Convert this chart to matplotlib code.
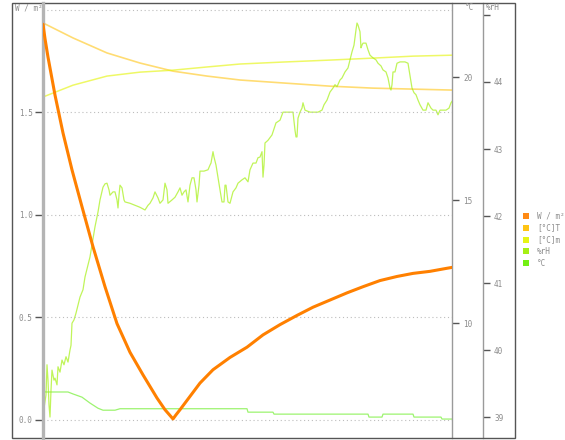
#!/usr/bin/env python3
"""Recreate the irradiance / temperature / humidity logger chart."""

import matplotlib

matplotlib.use("Agg")

import matplotlib.pyplot as plt
from matplotlib.patches import Rectangle

W, H = 565, 440

# irradiance, W/m2 (left axis)
IRR_T = [0, 2, 5, 12, 20, 29, 39, 50, 62, 74, 87, 100, 114, 122, 130, 133, 137,
         157, 170, 187, 204, 220, 237, 254, 270, 287, 304, 320, 337, 354, 370, 387, 404, 410]
IRR_V = [1.93, 1.86, 1.77, 1.585, 1.40, 1.22, 1.04, 0.845, 0.65, 0.47, 0.33, 0.22, 0.107, 0.05, 0.005, 0.025, 0.05,
         0.18, 0.245, 0.305, 0.355, 0.415, 0.465, 0.51, 0.55, 0.585, 0.62, 0.65, 0.68, 0.70, 0.715, 0.725, 0.74, 0.745]

# [°C]T... (°C axis)
TT_T = [0, 30, 64, 97, 130, 164, 197, 240, 287, 330, 370, 410]
TT_V = [22.20, 21.59, 20.98, 20.57, 20.24, 20.04, 19.88, 19.76, 19.63, 19.55, 19.51, 19.47]

# [°C]m... (°C axis)
TM_T = [0, 30, 64, 97, 130, 164, 197, 240, 287, 330, 370, 410]
TM_V = [19.19, 19.67, 20.04, 20.20, 20.28, 20.41, 20.53, 20.61, 20.69, 20.77, 20.85, 20.89]

# relative humidity, %rH (right axis)
RH_T = [0, 1, 3, 4, 5, 6, 7, 8, 9, 11, 12,
        14, 15, 17, 19, 21, 23, 25, 27, 28, 29,
        31, 33, 35, 37, 40, 42, 45, 47, 49, 52,
        55, 57, 60, 62, 64, 66, 67, 70, 72, 74,
        75, 76, 77, 79, 81, 82, 87, 92, 97, 102,
        105, 107, 110, 112, 115, 117, 120, 122, 124, 125,
        129, 132, 135, 137, 139, 141, 143, 145, 147, 149,
        151, 153, 154, 156, 157, 161, 165, 167, 168, 170,
        171, 173, 175, 177, 179, 181, 182, 183, 185, 187,
        190, 193, 195, 199, 202, 205, 207, 210, 213, 215,
        217, 219, 220, 221, 222, 225, 229, 233, 237, 240,
        247, 250, 252, 253, 254, 255, 257, 259, 260, 262,
        267, 275, 279, 281, 284, 287, 290, 292, 294, 297,
        299, 302, 305, 307, 309, 311, 313, 314, 315, 317,
        318, 319, 320, 323, 325, 327, 330, 333, 335, 338,
        340, 343, 345, 347, 348, 349, 350, 352, 354, 357,
        362, 365, 367, 369, 371, 373, 375, 377, 380, 383,
        385, 388, 390, 393, 395, 397, 403, 406, 408, 410]
RH_V = [39.07, 39.13, 39.33, 39.78, 39.55, 39.18, 39.00, 39.40, 39.70, 39.55, 39.58,
        39.48, 39.75, 39.67, 39.85, 39.78, 39.90, 39.82, 40.00, 40.07, 40.40,
        40.45, 40.55, 40.67, 40.79, 40.90, 41.09, 41.27, 41.39, 41.57, 41.84,
        42.06, 42.24, 42.43, 42.48, 42.49, 42.39, 42.31, 42.36, 42.36, 42.24,
        42.12, 42.31, 42.46, 42.42, 42.24, 42.21, 42.19, 42.16, 42.13, 42.09,
        42.16, 42.19, 42.27, 42.36, 42.27, 42.19, 42.24, 42.49, 42.39, 42.19,
        42.24, 42.28, 42.36, 42.42, 42.31, 42.36, 42.39, 42.21, 42.46, 42.57,
        42.57, 42.39, 42.21, 42.46, 42.67, 42.67, 42.69, 42.76, 42.79, 42.96,
        42.88, 42.76, 42.57, 42.39, 42.21, 42.21, 42.46, 42.46, 42.21, 42.19,
        42.36, 42.42, 42.49, 42.54, 42.57, 42.51, 42.69, 42.79, 42.79, 42.87,
        42.88, 42.96, 42.58, 42.76, 43.09, 43.13, 43.21, 43.39, 43.43, 43.55,
        43.55, 43.55, 43.28, 43.18, 43.18, 43.46, 43.55, 43.61, 43.69, 43.58,
        43.55, 43.55, 43.58, 43.66, 43.73, 43.85, 43.91, 43.96, 43.93, 44.03,
        44.06, 44.15, 44.21, 44.33, 44.45, 44.55, 44.78, 44.88, 44.85, 44.75,
        44.51, 44.55, 44.58, 44.58, 44.48, 44.40, 44.36, 44.33, 44.28, 44.24,
        44.18, 44.15, 44.06, 43.91, 43.88, 43.96, 44.15, 44.15, 44.28, 44.30,
        44.30, 44.28, 44.10, 43.91, 43.84, 43.81, 43.73, 43.66, 43.58, 43.58,
        43.69, 43.61, 43.58, 43.58, 43.51, 43.58, 43.58, 43.61, 43.69, 43.73]

# temperature, °C (°C axis)
TC_T = [0, 2, 25, 30, 39, 47, 55, 60, 72, 77, 204, 205, 230, 231, 325, 326,
        339, 340, 370, 371, 398, 399, 410]
TC_V = [7.40, 7.20, 7.20, 7.12, 6.99, 6.75, 6.54, 6.46, 6.46, 6.52, 6.52, 6.38, 6.38, 6.30, 6.30, 6.18,
        6.18, 6.30, 6.30, 6.18, 6.18, 6.10, 6.10]

LEFT_TICKS = [0.0, 0.5, 1.0, 1.5, 2.0]
LEFT_LABELS = ["0.0", "0.5", "1.0", "1.5", ""]
TEMP_TICKS = [10, 15, 20]
RH_TICKS = [39, 40, 41, 42, 43, 44, 45]
RH_LABELS = ["39", "40", "41", "42", "43", "44", ""]

LEGEND_LABELS = ["W / m²", "[°C]T", "[°C]m", "%rH", "°C"]
LEGEND_COLORS = ["#ff8a14", "#ffc414", "#e6f514", "#a6f014", "#74f014"]

LABEL_GRAY = "#8c8c8c"
FONT = dict(family="DejaVu Sans Mono", size=5.5, color=LABEL_GRAY)


def fx(px):
    return px / W


def fy(py):
    return 1 - py / H


fig = plt.figure(figsize=(W / 100, H / 100), dpi=100, facecolor="white")
ax = fig.add_axes([fx(43), fy(438), (452 - 43) / W, (438 - 3) / H])
ax_t = ax.twinx()
ax_rh = ax.twinx()

ax.set_xlim(0, 409)
ax.set_ylim(-0.088, 2.034)
ax_t.set_ylim(5.33, 23.01)
ax_rh.set_ylim(38.687, 45.179)

ax_t.plot(TC_T, TC_V, color="#7cf040", lw=0.9, alpha=0.75, zorder=2)
ax_rh.plot(RH_T, RH_V, color="#a6f014", lw=0.9, alpha=0.7, zorder=2)
ax_t.plot(TT_T, TT_V, color="#ffc000", lw=1.2, alpha=0.55, zorder=3)
ax_t.plot(TM_T, TM_V, color="#e6f514", lw=1.1, alpha=0.65, zorder=3)
ax.plot(IRR_T, IRR_V, color="#ff8000", lw=2.2, solid_capstyle="round",
        solid_joinstyle="round", zorder=5)
ax.set_zorder(ax_rh.get_zorder() + 1)
ax.patch.set_visible(False)

# left axis
ax.set_yticks(LEFT_TICKS)
ax.set_yticklabels(LEFT_LABELS, fontdict=FONT)
ax.tick_params(axis="y", length=6, width=1, color="#555555", pad=1.5, labelcolor=LABEL_GRAY)
ax.yaxis.get_major_ticks()[-1].tick1line.set_visible(False)
ax.grid(axis="y", color="#bdbdbd", linestyle=(0, (1, 2.5)), linewidth=0.8)
ax.set_xticks([])
for side in ["top", "bottom", "right"]:
    ax.spines[side].set_visible(False)
ax.spines["left"].set_color("#b4b4b4")
ax.spines["left"].set_linewidth(2.4)

# °C axis
ax_t.set_yticks(TEMP_TICKS)
ax_t.set_yticklabels([str(v) for v in TEMP_TICKS], fontdict=FONT)
ax_t.tick_params(axis="y", length=5, width=1, color="#555555", pad=3, labelcolor=LABEL_GRAY)
for side in ["top", "bottom", "left"]:
    ax_t.spines[side].set_visible(False)
ax_t.spines["right"].set_color("#9a9a9a")
ax_t.spines["right"].set_linewidth(1.0)

# %rH axis
ax_rh.spines["right"].set_position(("axes", (483 - 43) / (452 - 43)))
ax_rh.set_yticks(RH_TICKS)
ax_rh.set_yticklabels(RH_LABELS, fontdict=FONT)
ax_rh.tick_params(axis="y", length=5, width=1, color="#555555", pad=3, labelcolor=LABEL_GRAY)
for side in ["top", "bottom", "left"]:
    ax_rh.spines[side].set_visible(False)
ax_rh.spines["right"].set_color("#9a9a9a")
ax_rh.spines["right"].set_linewidth(1.0)

# outer frame
fig.add_artist(Rectangle((fx(12), fy(438)), (515 - 12) / W, (438 - 3) / H,
                         transform=fig.transFigure, fill=False, edgecolor="#555555", linewidth=1.0))

# axis headers
fig.text(fx(15), fy(8), "W / m²", ha="left", va="center", **FONT)
fig.text(fx(465), fy(8), "°C", ha="left", va="center", **FONT)
fig.text(fx(486), fy(8), "%rH", ha="left", va="center", **FONT)

# legend
for i, (label, color) in enumerate(zip(LEGEND_LABELS, LEGEND_COLORS)):
    yc = 216 + 11.8 * i
    fig.add_artist(Rectangle((fx(523), fy(yc + 3)), 6 / W, 6 / H,
                             transform=fig.transFigure, facecolor=color, edgecolor="none"))
    fig.text(fx(537), fy(yc), label, ha="left", va="center", **FONT)

fig.savefig("out.png", dpi=100)
